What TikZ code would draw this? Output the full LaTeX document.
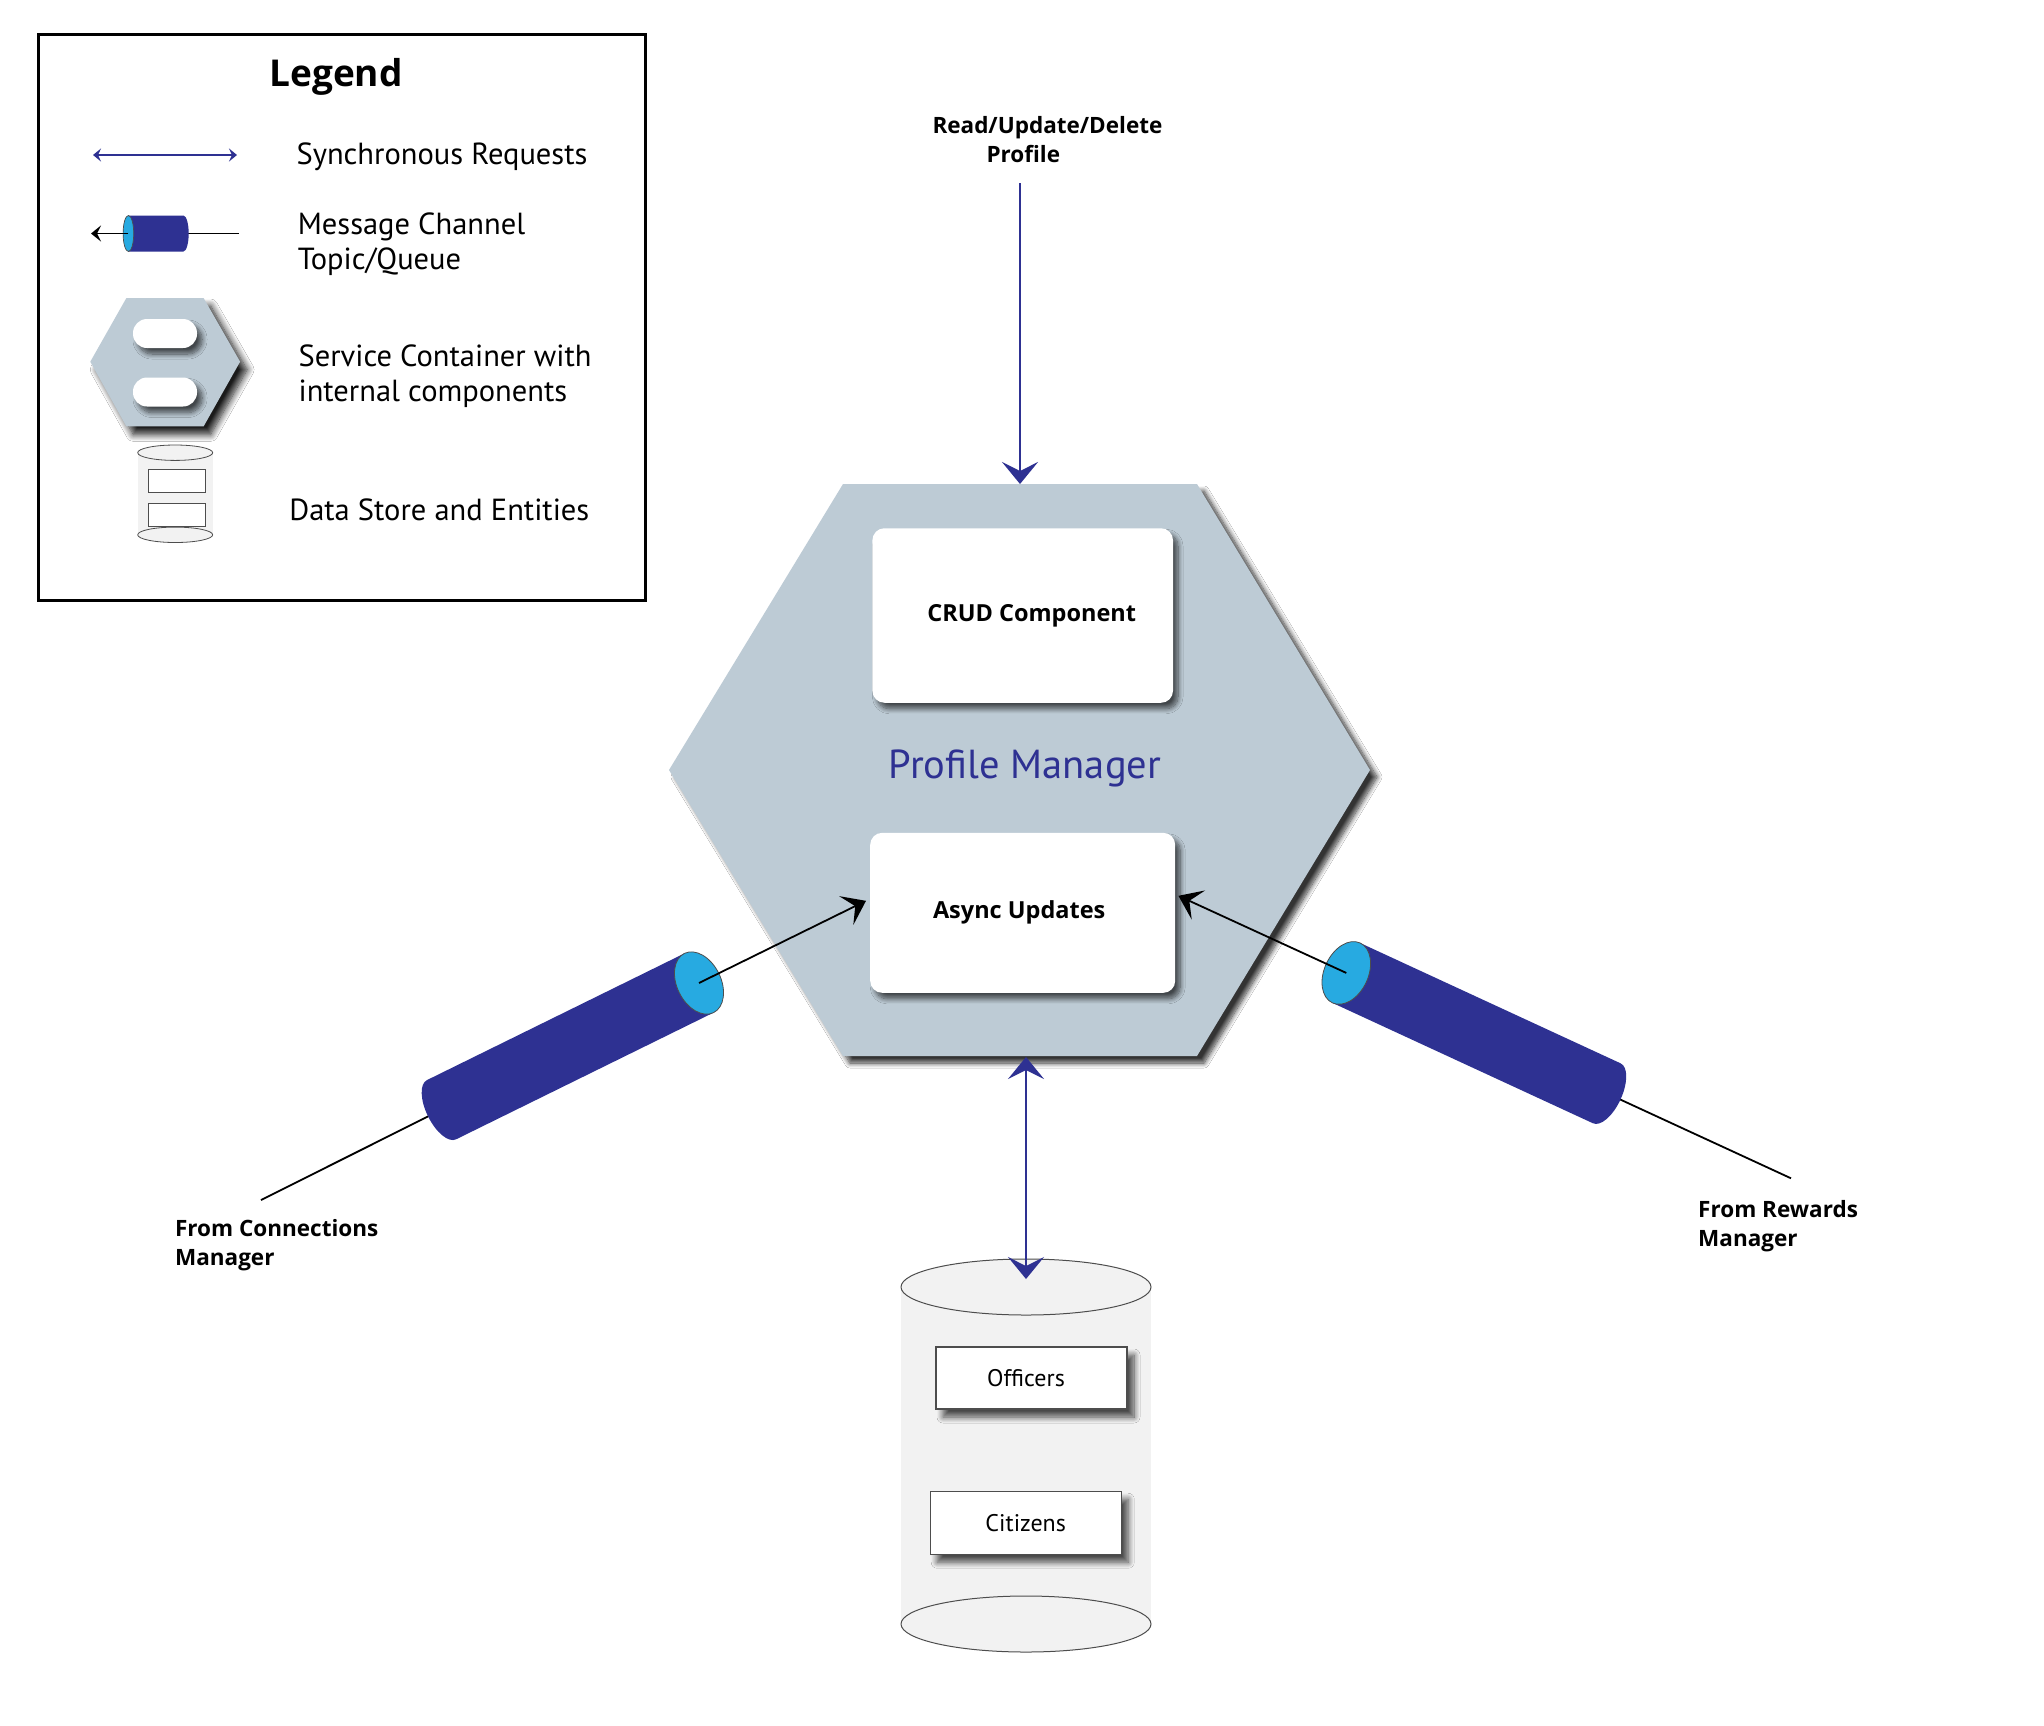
\documentclass[tikz,border=0pt]{standalone}
\usepackage{fontspec}
\setmainfont{PT Sans}
\newfontfamily\labfont{Open Sans}
\usetikzlibrary{arrows.meta,calc,shadows.blur,shapes.geometric}
\definecolor{pmnavy}{HTML}{2E3192}
\definecolor{chanblue}{HTML}{27AAE1}
\definecolor{hexfill}{HTML}{BDCBD5}
\definecolor{dbfill}{HTML}{F2F2F2}
\definecolor{edgegray}{HTML}{4D4D4D}
\tikzset{
  hexshadow/.style={blur shadow={shadow xshift=7pt, shadow yshift=-7pt, shadow blur radius=5pt, shadow blur steps=10, shadow opacity=80}},
  lghexshadow/.style={blur shadow={shadow xshift=7pt, shadow yshift=-8pt, shadow blur radius=7pt, shadow blur steps=10, shadow opacity=90}},
  boxshadow/.style={blur shadow={shadow xshift=5pt, shadow yshift=-6pt, shadow blur radius=5pt, shadow blur steps=10, shadow opacity=65}},
  entshadow/.style={blur shadow={shadow xshift=7pt, shadow yshift=-8pt, shadow blur radius=6pt, shadow blur steps=10, shadow opacity=70}},
  comp/.style={fill=white, rounded corners=12pt, inner sep=0pt, boxshadow, font=\labfont\bfseries\fontsize{23.5}{28}\selectfont},
  entity/.style={fill=white, draw=edgegray, line width=1.2pt, inner sep=0pt, minimum width=191pt, minimum height=62pt, entshadow, font=\fontsize{24}{28}\selectfont},
  pill/.style={fill=white, rounded corners=14pt, inner sep=0pt, minimum width=64pt, minimum height=29pt, boxshadow},
  lgtext/.style={inner sep=0pt, font=\fontsize{30.5}{35}\selectfont, align=left},
  boldlab/.style={inner sep=0pt, font=\labfont\bfseries\fontsize{22.5}{29}\selectfont, align=left},
  navyarrow/.style={draw=pmnavy, line width=2pt, -{Stealth[length=22pt,width=36pt,inset=9pt]}},
  navybiarrow/.style={draw=pmnavy, line width=2pt, {Stealth[length=22pt,width=36pt,inset=9pt]}-{Stealth[length=22pt,width=36pt,inset=9pt]}},
  blackarrow/.style={draw=black, line width=1.8pt, -{Stealth[length=22pt,width=32pt,inset=10pt]}},
  tailline/.style={draw=black, line width=1.8pt},
  dbell/.style={ellipse, fill=dbfill, draw=edgegray, line width=1pt, inner sep=0pt},
  pics/channel/.style={code={
    \fill[pmnavy] (0,-33) -- (287,-33) -- (287,33) -- (0,33)
       .. controls (-8.3,33) and (-15,18.2) .. (-15,0)
       .. controls (-15,-18.2) and (-8.3,-33) .. (0,-33) -- cycle;
    \draw[fill=chanblue, draw=edgegray, line width=0.8pt] (287,0) ellipse [x radius=22, y radius=33];
    \coordinate (-front) at (287,0);
  }}
}
\begin{document}
\begin{tikzpicture}[x=1pt, y=-1pt]
\path[fill=white] (0,0) rectangle (2044,1725);
\useasboundingbox (0,0) rectangle (2044,1725);

% ---------------- Legend ----------------
\draw[line width=3pt] (38,34) rectangle (645,600);
\node[inner sep=0pt, font=\labfont\bfseries\fontsize{37}{40}\selectfont, anchor=base] (legendt) at (336,86) {Legend};

% synchronous request arrow
\coordinate (syncL) at (93,155);
\coordinate (syncR) at (237,155);
\draw[draw=pmnavy, line width=1.6pt, {Stealth[length=8pt,width=13pt,inset=3pt]}-{Stealth[length=8pt,width=13pt,inset=3pt]}] (syncL) -- (syncR);
\node[lgtext, anchor=base west] (t1) at (296.4,164.8) {Synchronous Requests};

% message channel
\coordinate (lgTail) at (239,233.5);
\coordinate (lgBack) at (183,233.5);
\coordinate (lgFront) at (128.4,233.5);
\coordinate (lgTip) at (91,233.5);
\draw[tailline, line width=1.5pt] (lgTail) -- (lgBack);
\fill[pmnavy] (128.4,215.5) -- (183.4,215.5)
   .. controls (186.3,215.5) and (188.7,223.6) .. (188.7,233.5)
   .. controls (188.7,243.4) and (186.3,251.5) .. (183.4,251.5) -- (128.4,251.5) -- cycle;
\draw[fill=chanblue, draw=edgegray, line width=0.7pt] (lgFront) ellipse [x radius=5.3, y radius=18];
\draw[draw=black, line width=1.5pt, -{Stealth[length=10pt,width=16pt,inset=4pt]}] (lgFront) -- (lgTip);
\node[lgtext, anchor=west] (t2) at (297.6,244.5) {Message Channel\\Topic/Queue};

% service container
\path[fill=hexfill, lghexshadow] (126.4,298) -- (203.6,298) -- (240.1,361.7) -- (203.6,426.4) -- (126.4,426.4) -- (90.3,361.7) -- cycle;
\node[pill] (lgpill1) at (165,333.5) {};
\node[pill] (lgpill2) at (165,392) {};
\node[lgtext, anchor=west] (t3) at (298.4,376) {Service Container with\\internal components};

% data store
\fill[dbfill] (137.7,452.7) rectangle (212.8,534.8);
\draw[fill=dbfill, draw=edgegray, line width=0.8pt] (175.2,534.8) ellipse [x radius=37.5, y radius=7.7];
\draw[fill=dbfill, draw=edgegray, line width=0.8pt] (175.2,452.7) ellipse [x radius=37.5, y radius=7.7];
\draw[fill=white, draw=edgegray, line width=0.9pt] (148.5,469) rectangle (205.6,492.2);
\draw[fill=white, draw=edgegray, line width=0.9pt] (148.5,503) rectangle (205.6,526.3);
\node[lgtext, anchor=base west] (t4) at (289.1,520.7) {Data Store and Entities};

% ---------------- Profile Manager service ----------------
\path[fill=hexfill, hexshadow] (843,484) -- (1197,484) -- (1370,770) -- (1197,1056) -- (843,1056) -- (669,770) -- cycle;
\coordinate (hexTop) at (1020,484);
\coordinate (hexBot) at (1026,1057);

\node[comp, minimum width=300.6pt, minimum height=174.5pt] (crud) at (1022.7,615.5) {\hspace*{18pt}CRUD Component};
\node[comp, minimum width=305pt, minimum height=160pt] (async) at (1022.7,912.8) {Async Updates\hspace*{7pt}};
\node[inner sep=0pt, font=\fontsize{40.5}{44}\selectfont, text=pmnavy, anchor=base] (pmt) at (1025,778.5) {Profile Manager};

% top request
\node[boldlab, anchor=west] (rud) at (932.3,139.7) {Read/Update/Delete\\\hspace*{54pt}Profile};
\coordinate (topStart) at (1020,183);
\draw[navyarrow] (topStart) -- (hexTop);

% ---------------- Data store ----------------
\fill[dbfill] (901,1287) rectangle (1151,1624);
\node[dbell, minimum width=250pt, minimum height=56pt] (dbbot) at (1026,1624) {};
\node[dbell, minimum width=250pt, minimum height=56pt] (dbtop) at (1026,1287) {};
\node[entity] (officers) at (1031.5,1378) {Officers\hspace*{11pt}};
\node[entity, minimum height=63pt] (citizens) at (1025.7,1522.7) {Citizens};
\draw[navybiarrow] (hexBot) -- ($(dbtop.center)+(0,-8)$);

% ---------------- Left channel ----------------
\coordinate (lend) at (261,1200);
\coordinate (lback) at (441.5,1109.7);
\draw[tailline] (lend) -- (lback);
\pic (leftch) [rotate=26.2] at (lback) {channel};
\draw[blackarrow] (leftch-front) -- ($(async.west)+(-4,-12)$);
\node[boldlab, anchor=west] (fromconn) at (174.9,1244.7) {From Connections\\Manager};

% ---------------- Right channel ----------------
\coordinate (rend) at (1791,1178.3);
\coordinate (rback) at (1606.8,1093.3);
\draw[tailline] (rend) -- (rback);
\pic (rightch) [rotate=155.2] at (rback) {channel};
\draw[blackarrow] (rightch-front) -- ($(async.east)+(3,-17)$);
\node[boldlab, anchor=west] (fromrew) at (1698,1226) {From Rewards\\Manager};
\end{tikzpicture}
\end{document}
